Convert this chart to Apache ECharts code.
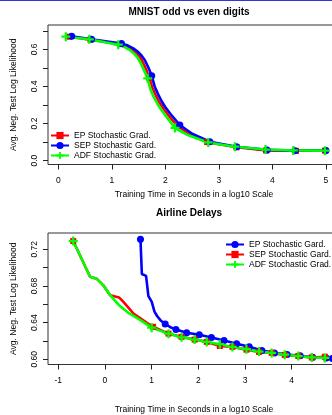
<!DOCTYPE html>
<html><head><meta charset="utf-8">
<script src="https://cdn.jsdelivr.net/npm/echarts@6/dist/echarts.min.js"></script>
<style>
html,body{margin:0;padding:0;background:#fff;}
#c1{position:absolute;left:0;top:0;width:332px;height:200px;}
#c2{position:absolute;left:0;top:200px;width:332px;height:215px;}
</style>
</head><body>
<div id="c1"></div><div id="c2"></div>
<script>
// ---------- MNIST odd vs even digits ----------
const mnistTitle = 'MNIST odd vs even digits';
const mnistNames = ['EP Stochastic Grad.', 'SEP Stochastic Gard.', 'ADF Stochastic Grad.'];
const mnistEpX  = [0.20, 0.60, 1.15, 1.27, 1.37, 1.45, 1.52, 1.58, 1.64, 1.70, 1.76, 1.82, 1.89, 1.96, 2.06, 2.22, 2.45, 2.78, 3.33, 3.88, 4.44, 4.98];
const mnistEpY  = [0.668, 0.652, 0.628, 0.616, 0.600, 0.582, 0.560, 0.530, 0.492, 0.445, 0.392, 0.352, 0.313, 0.282, 0.243, 0.188, 0.142, 0.100, 0.072, 0.055, 0.053, 0.054];
const mnistEpMarks = [0, 1, 2, 9, 15, 17, 18, 19, 20, 21];
const mnistSepX = [0.25, 0.62, 1.18, 1.30, 1.40, 1.48, 1.55, 1.62, 1.68, 1.745, 1.80, 1.86, 1.93, 2.00, 2.10, 2.27, 2.50, 2.83, 3.33, 3.90, 4.42, 5.00];
const mnistSepY = [0.670, 0.654, 0.631, 0.620, 0.605, 0.588, 0.568, 0.540, 0.503, 0.457, 0.400, 0.360, 0.320, 0.288, 0.250, 0.192, 0.145, 0.102, 0.075, 0.058, 0.054, 0.055];
const mnistSepMarks = [0, 1, 2, 9, 15, 17, 18, 19, 20, 21];
const mnistAdfX = [0.14, 0.58, 1.12, 1.24, 1.33, 1.41, 1.48, 1.54, 1.60, 1.67, 1.72, 1.78, 1.85, 1.92, 2.02, 2.18, 2.42, 2.80, 3.30, 3.87, 4.39, 4.98];
const mnistAdfY = [0.668, 0.654, 0.625, 0.612, 0.597, 0.578, 0.555, 0.525, 0.488, 0.443, 0.385, 0.345, 0.307, 0.276, 0.236, 0.176, 0.138, 0.098, 0.075, 0.060, 0.055, 0.054];
const mnistAdfMarks = [0, 1, 2, 9, 15, 17, 18, 19, 20, 21];
const mnistXTicks = [0, 1, 2, 3, 4, 5];
const mnistYTicks = [0.0, 0.1, 0.2, 0.3, 0.4, 0.5, 0.6, 0.7];
const mnistYLabels = [0.0, 0.2, 0.4, 0.6];

// ---------- Airline Delays ----------
const airTitle = 'Airline Delays';
const airNames = ['EP Stochastic Gard.', 'SEP Stochastic Gard.', 'ADF Stochastic Grad.'];
const airEpX  = [0.76, 0.79, 0.88, 0.93, 1.00, 1.06, 1.12, 1.20, 1.29, 1.40, 1.52, 1.75, 2.02, 2.28, 2.55, 2.82, 3.09, 3.36, 3.63, 3.90, 4.18, 4.45, 4.74, 4.87];
const airEpY  = [0.731, 0.693, 0.691, 0.669, 0.663, 0.652, 0.647, 0.642, 0.6385, 0.635, 0.6325, 0.629, 0.6267, 0.6238, 0.6205, 0.617, 0.6138, 0.6096, 0.607, 0.6052, 0.6038, 0.6022, 0.6015, 0.601];
const airEpMarks = [0, 8, 10, 11, 12, 13, 14, 15, 16, 17, 18, 19, 20, 21, 22, 23];
const airSepX = [-0.68, -0.32, -0.18, -0.04, 0.11, 0.30, 0.39, 0.61, 0.75, 0.89, 1.03, 1.36, 1.64, 1.92, 2.18, 2.46, 2.73, 3.03, 3.30, 3.57, 3.85, 4.14, 4.43, 4.71];
const airSepY = [0.729, 0.690, 0.688, 0.681, 0.670, 0.6675, 0.663, 0.650, 0.645, 0.640, 0.6355, 0.628, 0.6245, 0.6215, 0.619, 0.6145, 0.6135, 0.6105, 0.608, 0.607, 0.6047, 0.6036, 0.602, 0.6028];
const airSepMarks = [0, 10, 11, 12, 13, 14, 15, 16, 17, 18, 19, 20, 21, 22, 23];
const airAdfX = [-0.68, -0.32, -0.18, -0.04, 0.11, 0.30, 0.52, 0.75, 1.00, 1.36, 1.64, 1.92, 2.18, 2.46, 2.73, 3.03, 3.30, 3.57, 3.85, 4.14, 4.43, 4.71];
const airAdfY = [0.729, 0.690, 0.688, 0.681, 0.670, 0.659, 0.650, 0.643, 0.6345, 0.628, 0.624, 0.6215, 0.619, 0.6165, 0.6135, 0.611, 0.6085, 0.607, 0.605, 0.6035, 0.602, 0.6015];
const airAdfMarks = [0, 8, 9, 10, 11, 12, 13, 14, 15, 16, 17, 18, 19, 20, 21];
const airXTicks = [-1, 0, 1, 2, 3, 4];
const airYTicks = [0.60, 0.62, 0.64, 0.66, 0.68, 0.70, 0.72];
const airYLabels = [0.60, 0.64, 0.68, 0.72];

const xName = 'Training Time in Seconds in a log10 Scale';
const yName = 'Avg. Neg. Test Log Likelihood';

const FONT = '"Liberation Sans", Arial, Helvetica, sans-serif';
const RED = '#ff0000', BLUE = '#0000ff', GREEN = '#00ff00';
const PLUS = 'path://M3,0H5V3H8V5H5V8H3V5H0V3H3Z';

function pts(xs, ys, marks) {
  return xs.map((x, i) => marks.indexOf(i) >= 0 ? [x, ys[i]] : { value: [x, ys[i]], symbol: 'none' });
}
function mkSeries(name, xs, ys, marks, color, symbol, size) {
  return {
    type: 'line', name: name, data: pts(xs, ys, marks),
    symbol: symbol, symbolSize: size, showAllSymbol: true,
    lineStyle: { color: color, width: 2.6 },
    itemStyle: { color: color, borderWidth: 0 },
    animation: false, silent: true
  };
}
function mkOption(o) {
  return {
    animation: false,
    title: { text: o.title, left: 189, top: o.titleTop, textAlign: 'center', padding: 0,
      textStyle: { fontFamily: FONT, fontSize: 10, fontWeight: 'bold', color: '#000' } },
    grid: { left: 48, top: o.gridTop, width: 292, height: o.gridH, show: true,
      outerBoundsMode: 'none', containLabel: false,
      borderColor: '#333', borderWidth: 1, backgroundColor: 'transparent' },
    legend: { orient: 'vertical', left: o.legLeft, top: o.legTop, itemWidth: 18, itemHeight: 9, itemGap: 1,
      padding: 0, data: o.names, selectedMode: false,
      textStyle: { fontFamily: FONT, fontSize: 8.5, color: '#000', lineHeight: 9 } },
    xAxis: { type: 'value', min: o.xMin, max: o.xMax,
      name: xName, nameLocation: 'middle', nameGap: o.xNameGap,
      nameTextStyle: { fontFamily: FONT, fontSize: 8.5, color: '#000' },
      axisLine: { show: false, onZero: false }, splitLine: { show: false },
      axisTick: { show: true, length: 5, inside: false, customValues: o.xTicks, lineStyle: { color: '#222' } },
      axisLabel: { customValues: o.xTicks, margin: o.xMargin, fontFamily: FONT, fontSize: 8.5, color: '#000',
        formatter: v => String(Math.round(v)) } },
    yAxis: { type: 'value', min: o.yMin, max: o.yMax,
      name: yName, nameLocation: 'middle', nameGap: 30,
      nameTextStyle: { fontFamily: FONT, fontSize: 8.5, color: '#000' },
      axisLine: { show: false, onZero: false }, splitLine: { show: false },
      axisTick: { show: true, length: 5, inside: false, customValues: o.yTicks, lineStyle: { color: '#222' } },
      axisLabel: { customValues: o.yLabels, rotate: 90, margin: 9, fontFamily: FONT, fontSize: 8.5, color: '#000',
        formatter: v => v.toFixed(o.dec) } },
    series: o.series,
    graphic: o.graphic || []
  };
}

const c1 = echarts.init(document.getElementById('c1'), null, { renderer: 'canvas' });
c1.setOption(mkOption({
  title: mnistTitle, titleTop: 7, gridTop: 25, gridH: 139.5,
  legLeft: 50, legTop: 131, names: mnistNames,
  xMin: -0.193, xMax: 5.262, xTicks: mnistXTicks, xNameGap: 24, xMargin: 12,
  yMin: -0.0207, yMax: 0.731, yTicks: mnistYTicks, yLabels: mnistYLabels, dec: 1,
  series: [
    mkSeries(mnistNames[0], mnistEpX, mnistEpY, mnistEpMarks, RED, 'rect', 6),
    mkSeries(mnistNames[1], mnistSepX, mnistSepY, mnistSepMarks, BLUE, 'circle', 7),
    mkSeries(mnistNames[2], mnistAdfX, mnistAdfY, mnistAdfMarks, GREEN, PLUS, 9)
  ],
  graphic: [{ type: 'rect', shape: { x: 0, y: 0, width: 332, height: 1 }, style: { fill: '#3434d8' }, silent: true }]
}));

const c2 = echarts.init(document.getElementById('c2'), null, { renderer: 'canvas' });
c2.setOption(mkOption({
  title: airTitle, titleTop: 8, gridTop: 33, gridH: 131.5,
  legLeft: 225, legTop: 40, names: airNames,
  xMin: -1.2206, xMax: 5.034, xTicks: airXTicks, xNameGap: 41, xMargin: 12,
  yMin: 0.59433, yMax: 0.7378, yTicks: airYTicks, yLabels: airYLabels, dec: 2,
  series: [
    mkSeries(airNames[0], airEpX, airEpY, airEpMarks, BLUE, 'circle', 7),
    mkSeries(airNames[1], airSepX, airSepY, airSepMarks, RED, 'rect', 6),
    mkSeries(airNames[2], airAdfX, airAdfY, airAdfMarks, GREEN, PLUS, 9)
  ]
}));
</script>
</body></html>
